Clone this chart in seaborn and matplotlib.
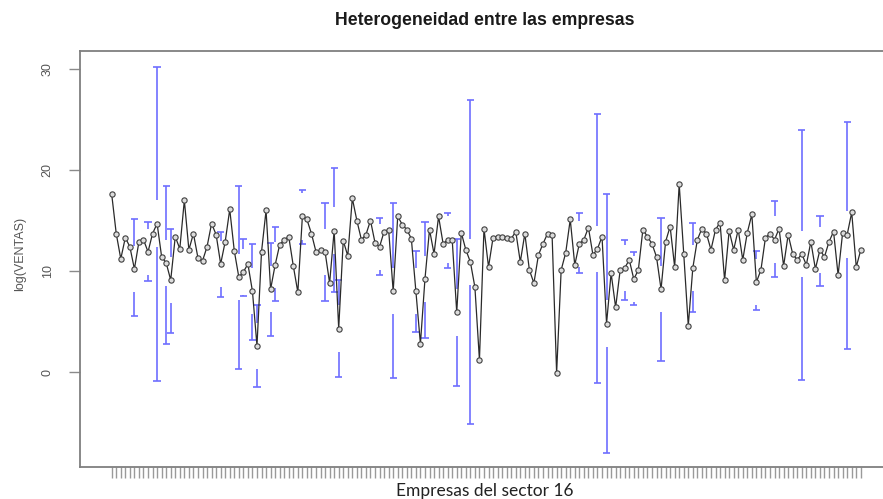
import numpy as np
import pandas as pd
import matplotlib
matplotlib.use("Agg")
import matplotlib.pyplot as plt
import seaborn as sns

# ---- data ----
means = [
    17.6, 13.7, 11.2, 13.3, 12.4, 10.2, 12.9, 13.1, 11.9, 13.7,
    14.7, 11.4, 10.8, 9.1, 13.4, 12.2, 17.0, 12.1, 13.7, 11.3,
    11.0, 12.4, 14.7, 13.6, 10.7, 12.9, 16.1, 12.0, 9.4, 9.9,
    10.7, 8.0, 2.6, 11.9, 16.0, 8.2, 10.6, 12.6, 13.1, 13.4,
    10.5, 7.9, 15.4, 15.1, 13.7, 11.9, 12.1, 11.9, 8.8, 14.0,
    4.3, 13.0, 11.5, 17.2, 15.0, 13.1, 13.6, 15.0, 12.8, 12.4,
    13.9, 14.1, 8.0, 15.4, 14.6, 14.1, 13.2, 8.0, 2.8, 9.2,
    14.1, 11.7, 15.4, 12.7, 13.1, 13.1, 5.9, 13.8, 12.1, 10.9,
    8.4, 1.2, 14.2, 10.4, 13.3, 13.4, 13.4, 13.3, 13.2, 13.9,
    10.9, 13.7, 10.1, 8.8, 11.6, 12.7, 13.7, 13.6, -0.1, 10.1,
    11.8, 15.1, 10.6, 12.7, 13.1, 14.3, 11.6, 12.2, 13.4, 4.8,
    9.8, 6.4, 10.1, 10.3, 11.1, 9.2, 10.1, 14.1, 13.4, 12.7,
    11.4, 8.2, 12.9, 14.4, 10.4, 18.6, 11.7, 4.6, 10.3, 13.1,
    14.2, 13.7, 12.1, 14.1, 14.8, 9.1, 14.0, 12.1, 14.1, 11.1,
    13.8, 15.6, 8.9, 10.1, 13.3, 13.7, 13.1, 14.2, 10.5, 13.6,
    11.7, 11.1, 11.7, 10.6, 12.9, 10.2, 12.1, 11.4, 12.9, 13.9,
    9.6, 13.8, 13.6, 15.8, 10.4, 12.1,
]
# firms whose confidence interval is visible (1-based position), with limits
bar_firm = [6, 9, 11, 13, 14, 25, 29, 30, 32, 33, 36, 37, 43, 48, 50, 51,
            60, 63, 68, 70, 75, 77, 80, 104, 108, 110, 114, 116, 122, 129,
            143, 147, 153, 157, 163]
bar_upper = [15.1, 14.9, 30.2, 18.4, 14.2, 13.9, 18.4, 13.2, 12.7, 6.6,
             12.8, 14.4, 18.0, 16.7, 20.2, 9.1, 15.2, 16.7, 12.0, 14.9,
             15.7, 13.2, 26.9, 15.7, 25.5, 17.6, 13.1, 11.9, 15.2, 14.8,
             12.0, 16.9, 24.0, 15.4, 24.8]
bar_lower = [5.5, 9.0, -0.9, 2.8, 3.9, 7.4, 0.3, 7.5, 3.2, -1.5,
             3.6, 7.0, 12.7, 7.0, 7.9, -0.5, 9.6, -0.6, 4.0, 3.4,
             10.3, -1.4, -5.1, 9.8, -1.1, -8.0, 7.1, 6.6, 1.1, 5.9,
             6.1, 9.4, -0.8, 8.5, 2.3]
y_ticks = [0, 10, 20, 30]
title = "Heterogeneidad entre las empresas"
x_label = "Empresas del sector 16"
y_label = "log(VENTAS)"

sns.set_theme(style="white")
plt.rcParams["font.family"] = ["Liberation Sans", "DejaVu Sans"]

W, H = 883, 499
fig = plt.figure(figsize=(W / 100, H / 100), dpi=100)
left_px, right_px, top_px, bot_px = 80, 891, 51, 466.7
ax = fig.add_axes([left_px / W, 1 - bot_px / H,
                   (right_px - left_px) / W, (bot_px - top_px) / H])

n = len(means)
pos = np.arange(1, n + 1)
df = pd.DataFrame({"firm": pos, "mean": means})

# confidence intervals (R plotCI style: gap around the point)
bar_col = "#6e6eff"
gap = 2.3
cap = 0.8
mean_arr = np.array(means)
for f, up, lo in zip(bar_firm, bar_upper, bar_lower):
    m = mean_arr[f - 1]
    if up > m + gap:
        ax.vlines(f, m + gap, up, color=bar_col, lw=1.2, zorder=1)
        ax.hlines(up, f - cap, f + cap, color=bar_col, lw=1.2, zorder=1)
    if lo < m - gap:
        ax.vlines(f, lo, m - gap, color=bar_col, lw=1.2, zorder=1)
        ax.hlines(lo, f - cap, f + cap, color=bar_col, lw=1.2, zorder=1)

sns.lineplot(data=df, x="firm", y="mean", ax=ax, sort=False,
             color="#2a2a2a", lw=0.9, marker="o", markersize=3.8,
             markerfacecolor="#dcdcdc", markeredgecolor="#404040",
             markeredgewidth=0.8, zorder=3)

ax.set_xlim(1 + (left_px - 111.7) / 4.54, 1 + (right_px - 111.7) / 4.54)
ax.set_ylim((372 - bot_px) / 10.1, (372 - top_px) / 10.1)

ax.set_xticks(pos)
ax.set_xticklabels([""] * n)
ax.set_yticks(y_ticks)
ax.set_yticklabels([str(t) for t in y_ticks], rotation=90, va="center",
                   fontsize=9, color="#555555")
ax.tick_params(axis="x", length=8, width=1.0, color="#9a9a9a", direction="out", bottom=True)
ax.tick_params(axis="y", length=8, width=1.0, color="#8a8a8a", direction="out", left=True, pad=11)
ax.set_xlabel("")
ax.set_ylabel("")
for s in ["left", "bottom", "top"]:
    ax.spines[s].set_color("#7f7f7f")
    ax.spines[s].set_linewidth(1.3)
ax.spines["right"].set_visible(False)

fig.text(485 / W, 1 - 20.5 / H, title, ha="center", va="center",
         fontsize=12.7, fontweight="bold", color="#1a1a1a")
fig.text(485 / W, 1 - 491 / H, x_label, ha="center", va="center",
         fontsize=12.5, color="#222222", family=["Lato", "DejaVu Sans"])
fig.text(20 / W, 1 - 254 / H, y_label, ha="center", va="center",
         rotation=90, fontsize=9, color="#555555")

fig.savefig("out.png", dpi=100, facecolor="white")
